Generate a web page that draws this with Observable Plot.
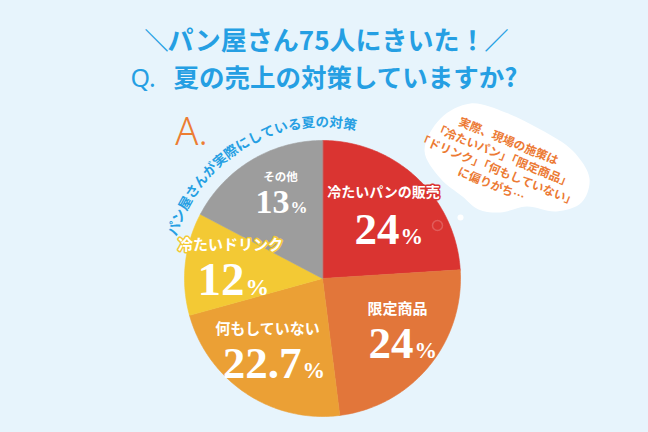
<!DOCTYPE html>
<html><head><meta charset="utf-8">
<script src="https://cdn.jsdelivr.net/npm/d3@7"></script>
<script src="https://cdn.jsdelivr.net/npm/@observablehq/plot@0.6"></script>
<style>
html,body{margin:0;padding:0;background:#e7f4fc;width:648px;height:432px;overflow:hidden}
</style></head><body><div id="chart"></div>
<script>
// ---- data ----
const categories = ["冷たいパンの販売", "限定商品", "何もしていない", "冷たいドリンク", "その他"];
const values = [24, 24, 22.7, 12, 13];
const valueLabels = ["24", "24", "22.7", "12", "13"];
const sliceColors = ["#da3431", "#e2763a", "#eba035", "#f3c934", "#9d9d9d"];
const titleText = "パン屋さん75人にきいた！";
const titleLeft = "＼", titleRight = "／";
const questionPrefix = "Q.";
const questionText = "夏の売上の対策していますか?";
const answerText = "A.";
const arcCaption = "パン屋さんが実際にしている夏の対策";
const bubbleLines = ["実際、現場の施策は", "「冷たいパン」「限定商品」", "「ドリンク」「何もしていない」", "に偏りがち…"];

// ---- layout ----
const W = 648, H = 432, cx = 322, cy = 278, R = 138;
const JP = "'Noto Sans CJK JP', 'Noto Sans', sans-serif";
const SERIF = "'Liberation Serif', 'DejaVu Serif', serif";
// label offsets from pie centre: name centre, number join point (x) + baseline (y), number size
const labelLayout = [
  {name: [61, -86], num: [77, -35], size: 45, nameSize: 14},
  {name: [75, 30.5], num: [91, 79], size: 45, nameSize: 15},
  {name: [-55, 50.5], num: [-21, 99], size: 45, nameSize: 15},
  {name: [-92, -33], num: [-78, 16], size: 47, nameSize: 15},
  {name: [-42, -101], num: [-33, -66], size: 34, nameSize: 11.5}
];

// slices (percent of a full circle, last slice closes the circle)
let acc = 0;
const slices = categories.map((c, i) => {
  const a0 = acc / 100 * 360;
  acc += values[i];
  const a1 = i === categories.length - 1 ? 360 : acc / 100 * 360;
  return {c, i, a0, a1, col: sliceColors[i]};
});
const rad = d => d * Math.PI / 180;
const piePts = slices.flatMap(s => {
  const pts = [{x: cx, y: cy, k: s.c, col: s.col}];
  const n = Math.max(2, Math.ceil(s.a1 - s.a0));
  for (let j = 0; j <= n; j++) {
    const a = rad(s.a0 + (s.a1 - s.a0) * j / n);
    pts.push({x: cx + R * Math.sin(a), y: cy - R * Math.cos(a), k: s.c, col: s.col});
  }
  return pts;
});

const names = slices.map((s, i) => ({t: s.c, x: cx + labelLayout[i].name[0], y: cy + labelLayout[i].name[1], col: s.col, fs: labelLayout[i].nameSize}));
const nums = slices.map((s, i) => {
  const L = labelLayout[i];
  return {t: valueLabels[i], x: cx + L.num[0], yb: cy + L.num[1], fs: L.size};
});

// curved caption along an arc around the pie
const capR = 156, capStart = -71.5, capStep = 5.1;
const capChars = Array.from(arcCaption).map((ch, i) => {
  const a = capStart + i * capStep;
  return {t: ch, x: cx + capR * Math.sin(rad(a)), y: cy - capR * Math.cos(rad(a)), r: a};
});

// thought bubble
const cloudPts = [[424,150],[440,118],[470,103],[505,112],[540,129],[572,150],[589,178],[581,202],[556,211],[526,206],[500,212],[478,209],[462,196],[440,178]].map(([x,y]) => ({x, y}));
const tailDots = [{x: 460, y: 217, r: 8}];
const bRot = 22, bBase = [508, 141], bGap = 15.5;
const bubble = bubbleLines.map((t, i) => ({t, x: bBase[0] - i * bGap * Math.sin(rad(bRot)), y: bBase[1] + i * bGap * Math.cos(rad(bRot))}));

const BLUE = "#259fe3";
const chart = Plot.plot({
  width: W, height: H, margin: 0,
  x: {domain: [0, W], range: [0, W], axis: null},
  y: {domain: [0, H], range: [0, H], axis: null},
  color: {type: "identity"},
  style: {background: "#e7f4fc", overflow: "visible"},
  marks: [
    Plot.line(piePts, {x: "x", y: "y", z: "k", fill: "col", stroke: "col", strokeWidth: 0.6, curve: "linear-closed"}),
    Plot.line(cloudPts, {x: "x", y: "y", fill: "white", stroke: "none", curve: "catmull-rom-closed"}),
    Plot.dot(tailDots, {x: "x", y: "y", r: "r", fill: "white", stroke: "none"}),
    Plot.dot([{x: 437, y: 225}], {x: "x", y: "y", r: 5, fill: "none", stroke: "white", strokeOpacity: 0.2}),
    Plot.text(bubble, {x: "x", y: "y", text: "t", rotate: bRot, fontFamily: JP, fontWeight: "bold", fontSize: 11.8, fill: "#ec7a34"}),
    Plot.text([{t: titleLeft}], {x: () => 156, y: () => 41, text: "t", fontFamily: JP, fontWeight: "bold", fontSize: 24, fill: BLUE}),
    Plot.text([{t: titleRight}], {x: () => 496, y: () => 41, text: "t", fontFamily: JP, fontWeight: "bold", fontSize: 24, fill: BLUE}),
    Plot.text([{t: titleText}], {x: () => 326, y: () => 41, text: "t", fontFamily: JP, fontWeight: "bold", fontSize: 26, fill: BLUE}),
    Plot.text([{t: questionPrefix}], {x: () => 130, y: () => 78, text: "t", textAnchor: "start", fontFamily: "'Noto Sans', sans-serif", fontWeight: "normal", fontSize: 25, fill: BLUE}),
    Plot.text([{t: questionText}], {x: () => 173, y: () => 78, text: "t", textAnchor: "start", fontFamily: JP, fontWeight: "bold", fontSize: 25.5, fill: BLUE}),
    Plot.text([{t: answerText}], {x: () => 191, y: () => 132, text: "t", fontFamily: "'Noto Sans', sans-serif", fontWeight: 300, fontSize: 38, fill: "#ec7d33"}),
    Plot.text(capChars, {x: "x", y: "y", text: "t", rotate: "r", fontFamily: JP, fontWeight: "bold", fontSize: 13.5, fill: BLUE}),
    Plot.text(names, {x: "x", y: "y", text: "t", fontSize: "fs", fontFamily: JP, fontWeight: "bold", fill: "white", stroke: "col", strokeWidth: 3, paintOrder: "stroke"}),
    Plot.text(nums, {x: "x", y: d => d.yb - 0.32 * d.fs, text: "t", fontSize: "fs", textAnchor: "end", fontFamily: SERIF, fontWeight: "bold", fill: "white"}),
    Plot.text(nums, {x: d => d.x + 1, y: d => d.yb - 0.32 * d.fs * 0.5, text: () => "%", fontSize: d => d.fs * 0.5, textAnchor: "start", fontFamily: SERIF, fontWeight: "bold", fill: "white"})
  ]
});
document.getElementById("chart").appendChild(chart);
</script></body></html>
